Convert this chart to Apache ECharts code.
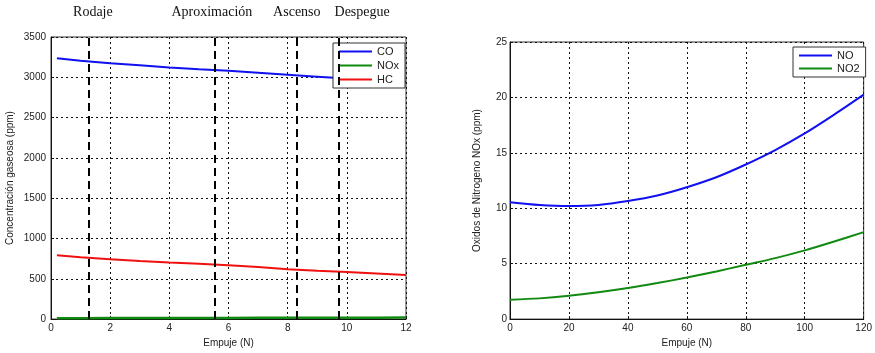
<!DOCTYPE html>
<html>
<head>
<meta charset="utf-8">
<script src="https://cdn.jsdelivr.net/npm/echarts@6/dist/echarts.min.js"></script>
<style>html,body{margin:0;padding:0;background:#fff;}#c{width:875px;height:353px;}</style>
</head>
<body>
<div id="c"></div>
<script>
// Left panel data
const thrustL = [0.2, 1, 2, 3, 4, 5, 6, 7, 8, 9, 10, 11, 12];
const co  = [3235, 3205, 3175, 3148, 3122, 3100, 3080, 3056, 3032, 3008, 2985, 2965, 2945];
const nox = [12, 12, 13, 13, 14, 14, 15, 16, 16, 17, 18, 18, 19];
const hc  = [792, 768, 743, 722, 702, 686, 669, 645, 620, 601, 583, 565, 546];
const phaseNames = ['Rodaje', 'Aproximación', 'Ascenso', 'Despegue'];
const phaseThrust = [1.28, 5.54, 8.31, 9.74];
const phasePad = [[0,0,0,8],[0,6,0,0],[0,0,0,0],[0,0,0,46]];
const ticksLX = [0, 2, 4, 6, 8, 10, 12];
const ticksLY = [0, 500, 1000, 1500, 2000, 2500, 3000, 3500];

// Right panel data
const thrustR = [0, 10, 20, 30, 40, 50, 60, 70, 80, 90, 100, 110, 120];
const no  = [10.55, 10.3, 10.2, 10.3, 10.65, 11.15, 11.9, 12.8, 13.95, 15.25, 16.75, 18.45, 20.25];
const no2 = [1.75, 1.87, 2.1, 2.42, 2.8, 3.25, 3.75, 4.3, 4.9, 5.5, 6.2, 7.0, 7.85];
const ticksRX = [0, 20, 40, 60, 80, 100, 120];
const ticksRY = [0, 5, 10, 15, 20, 25];

const pair = (xs, ys) => xs.map((x, i) => [x, ys[i]]);
const sans = 'Liberation Sans, Arial, sans-serif';
const txt = '#222';
const plain = v => String(v);

function xAxisCfg(idx, ticks, name) {
  return {
    type: 'value', gridIndex: idx, min: ticks[0], max: ticks[ticks.length-1],
    interval: ticks[1]-ticks[0],
    name: name, nameLocation: 'middle', nameGap: 18,
    nameTextStyle: {fontFamily: sans, fontSize: 10, color: txt},
    axisLine: {show: true, onZero: false, lineStyle: {color: '#111', width: 1}},
    axisTick: {show: true, inside: true, length: 3, lineStyle: {color: '#111'}},
    axisLabel: {fontFamily: sans, fontSize: 10, color: txt, margin: 4, formatter: plain},
    splitLine: {show: true, lineStyle: {color: '#111', type: [2, 3], width: 1}}
  };
}
function yAxisCfg(idx, ticks, name, gap, margin) {
  return {
    type: 'value', gridIndex: idx, min: ticks[0], max: ticks[ticks.length-1],
    interval: ticks[1]-ticks[0],
    name: name, nameLocation: 'middle', nameGap: gap,
    nameTextStyle: {fontFamily: sans, fontSize: 10, color: txt},
    axisLine: {show: true, onZero: false, lineStyle: {color: '#111', width: 1}},
    axisTick: {show: true, inside: true, length: 3, lineStyle: {color: '#111'}},
    axisLabel: {fontFamily: sans, fontSize: 10, color: txt, margin: margin, formatter: plain},
    splitLine: {show: true, lineStyle: {color: '#111', type: [2, 3], width: 1}}
  };
}

const chart = echarts.init(document.getElementById('c'), null, {renderer: 'canvas'});
chart.setOption({
  backgroundColor: '#fff',
  animation: false,
  grid: [
    {left: 51, top: 37, right: 469, bottom: 32, show: true, borderColor: '#333', borderWidth: 1, backgroundColor: 'transparent'},
    {left: 510, top: 42, right: 10, bottom: 31, show: true, borderColor: '#333', borderWidth: 1, backgroundColor: 'transparent'}
  ],
  xAxis: [xAxisCfg(0, ticksLX, 'Empuje (N)'), xAxisCfg(1, ticksRX, 'Empuje (N)')],
  yAxis: [yAxisCfg(0, ticksLY, 'Concentración gaseosa (ppm)', 36, 5), yAxisCfg(1, ticksRY, 'Oxidos de Nitrogeno NOx (ppm)', 28, 3)],
  legend: [
    {
      data: ['CO', 'NOx', 'HC'], orient: 'vertical', left: 333, top: 43,
      backgroundColor: '#fff', borderColor: '#333', borderWidth: 1,
      padding: [3, 6, 3, 6], itemGap: 3, itemWidth: 33, itemHeight: 2, icon: 'rect',
      textStyle: {fontFamily: sans, fontSize: 11, color: txt}
    },
    {
      data: ['NO', 'NO2'], orient: 'vertical', left: 793, top: 47,
      backgroundColor: '#fff', borderColor: '#333', borderWidth: 1,
      padding: [3, 6, 3, 6], itemGap: 2, itemWidth: 33, itemHeight: 2, icon: 'rect',
      textStyle: {fontFamily: sans, fontSize: 11, color: txt}
    }
  ],
  series: [
    {
      name: 'CO', type: 'line', xAxisIndex: 0, yAxisIndex: 0, data: pair(thrustL, co),
      showSymbol: false, lineStyle: {color: '#1010f0', width: 2}, itemStyle: {color: '#1010f0'}, z: 3,
      markLine: {
        silent: true, symbol: ['none', 'none'], animation: false,
        lineStyle: {color: '#000', type: [8, 5], width: 2},
        label: {show: true, position: 'end', distance: 18, fontFamily: 'Liberation Serif, Times New Roman, serif', fontSize: 14, color: '#111'},
        data: phaseThrust.map((x, i) => ({xAxis: x, label: {formatter: phaseNames[i], padding: phasePad[i]}}))
      }
    },
    {
      name: 'NOx', type: 'line', xAxisIndex: 0, yAxisIndex: 0, data: pair(thrustL, nox),
      showSymbol: false, lineStyle: {color: '#108a10', width: 2.5}, itemStyle: {color: '#108a10'}, z: 3
    },
    {
      name: 'HC', type: 'line', xAxisIndex: 0, yAxisIndex: 0, data: pair(thrustL, hc),
      showSymbol: false, lineStyle: {color: '#f01010', width: 2}, itemStyle: {color: '#f01010'}, z: 3
    },
    {
      name: 'NO', type: 'line', xAxisIndex: 1, yAxisIndex: 1, data: pair(thrustR, no), smooth: 0.3,
      showSymbol: false, lineStyle: {color: '#1010f0', width: 2}, itemStyle: {color: '#1010f0'}, z: 3
    },
    {
      name: 'NO2', type: 'line', xAxisIndex: 1, yAxisIndex: 1, data: pair(thrustR, no2), smooth: 0.3,
      showSymbol: false, lineStyle: {color: '#108a10', width: 2}, itemStyle: {color: '#108a10'}, z: 3
    }
  ]
});
</script>
</body>
</html>
